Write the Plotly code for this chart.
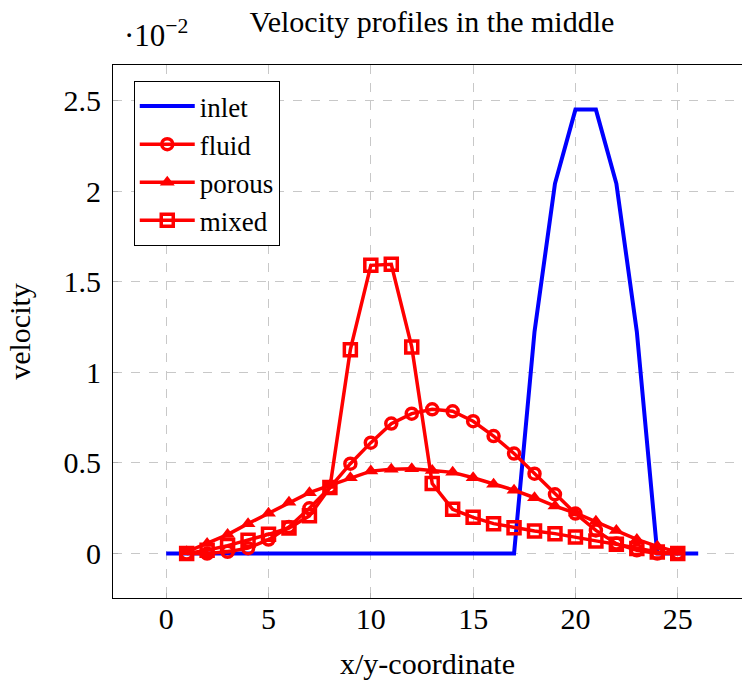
import plotly.graph_objects as go

# data (velocity in units of 1e-2)
x_inlet = list(range(0, 27))
y_inlet = [0]*18 + [1.224, 2.041, 2.449, 2.449, 2.041, 1.224, 0, 0, 0]

x_red = list(range(1, 26))
y_fluid = [0.0, 0.0, 0.01, 0.03, 0.077, 0.147, 0.25, 0.364, 0.496, 0.612, 0.717, 0.772, 0.796,
           0.785, 0.73, 0.648, 0.552, 0.441, 0.327, 0.221, 0.128, 0.055, 0.018, 0.0, 0.0]
y_porous = [0.01, 0.055, 0.105, 0.165, 0.222, 0.283, 0.336, 0.376, 0.418, 0.455, 0.465, 0.468, 0.458,
            0.448, 0.418, 0.383, 0.35, 0.308, 0.262, 0.224, 0.178, 0.127, 0.078, 0.04, 0.008]
y_mixed = [0.0, 0.018, 0.044, 0.073, 0.106, 0.141, 0.208, 0.364, 1.125, 1.59, 1.596, 1.14, 0.386,
           0.244, 0.2, 0.165, 0.143, 0.125, 0.11, 0.092, 0.07, 0.051, 0.028, 0.009, 0.0]

x_ticks = [0, 5, 10, 15, 20, 25]
y_ticks = [0, 0.5, 1, 1.5, 2, 2.5]
y_ticklabels = ["0", "0.5", "1", "1.5", "2", "2.5"]

FONT = "Times New Roman"
FS = 30
RED = "#ff0000"

fig = go.Figure()
fig.add_trace(go.Scatter(x=x_inlet, y=y_inlet, mode="lines", name="inlet",
                         line=dict(color="#0000ff", width=4)))
fig.add_trace(go.Scatter(x=x_red, y=y_fluid, mode="lines+markers", name="fluid",
                         line=dict(color=RED, width=3.5),
                         marker=dict(symbol="circle-open", size=11, color=RED,
                                     line=dict(width=3.5, color=RED))))
fig.add_trace(go.Scatter(x=x_red, y=y_porous, mode="lines+markers", name="porous",
                         line=dict(color=RED, width=3.5),
                         marker=dict(symbol="triangle-up", size=13, color=RED)))
fig.add_trace(go.Scatter(x=x_red, y=y_mixed, mode="lines+markers", name="mixed",
                         line=dict(color=RED, width=3.5),
                         marker=dict(symbol="square-open", size=12, color=RED,
                                     line=dict(width=3.5, color=RED))))

fig.update_layout(
    width=742, height=686,
    margin=dict(l=113, r=0, t=65, b=88),
    paper_bgcolor="white", plot_bgcolor="white",
    font=dict(family=FONT, size=FS, color="black"),
    title=dict(text="Velocity profiles in the middle", x=0.582, xanchor="center",
               y=0.968, yanchor="middle", font=dict(family=FONT, size=FS, color="black")),
    showlegend=True,
    legend=dict(x=0.033, y=0.97, xanchor="left", yanchor="top",
                bgcolor="white", bordercolor="black", borderwidth=1,
                font=dict(family=FONT, size=27, color="black"), tracegroupgap=0,
                itemwidth=55),
    xaxis=dict(range=[-2.6, 28.14], tickvals=x_ticks, showgrid=True,
               gridcolor="#c8c8c8", griddash="dash", gridwidth=1,
               showline=True, linecolor="black", linewidth=1, mirror=True,
               ticks="inside", ticklen=5, tickcolor="#b0b0b0",
               zeroline=False, ticklabelstandoff=-6,
               tickfont=dict(family=FONT, size=FS, color="black"),
               title=dict(text="x/y-coordinate", standoff=18,
                          font=dict(family=FONT, size=FS, color="black"))),
    yaxis=dict(range=[-0.245, 2.695], tickvals=y_ticks, ticktext=y_ticklabels,
               showgrid=True, gridcolor="#c8c8c8", griddash="dash", gridwidth=1,
               showline=True, linecolor="black", linewidth=1, mirror=False,
               ticks="inside", ticklen=5, tickcolor="#b0b0b0",
               zeroline=False, ticklabelstandoff=5,
               tickfont=dict(family=FONT, size=FS, color="black"),
               title=dict(text="velocity", standoff=24,
                          font=dict(family=FONT, size=FS, color="black"))),
)

fig.add_annotation(text="·10<sup>−2</sup>", xref="paper", yref="paper",
                   x=0.015, y=1.0, xanchor="left", yanchor="bottom", yshift=10,
                   showarrow=False, font=dict(family=FONT, size=31, color="black"))

fig.write_html("out.html")
